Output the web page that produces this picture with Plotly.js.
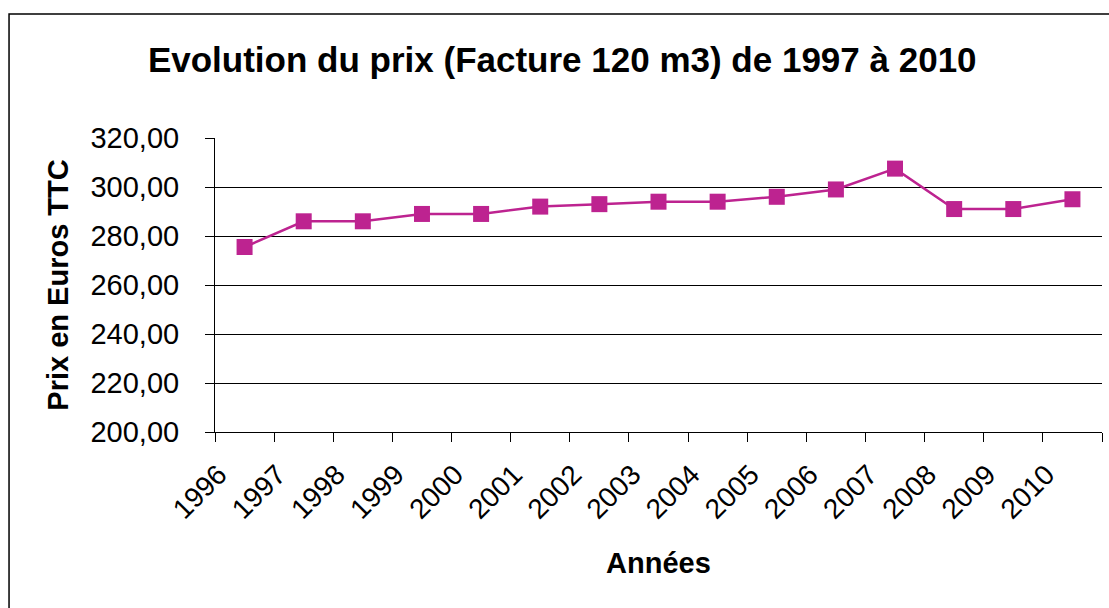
<!DOCTYPE html>
<html>
<head>
<meta charset="utf-8">
<script src="https://cdn.plot.ly/plotly-3.0.1.min.js"></script>
<style>
  html, body { margin: 0; padding: 0; background: #ffffff; }
  #chart { width: 1109px; height: 608px; }
</style>
</head>
<body>
<div id="chart"></div>
<script>
const years = ["1996", "1997", "1998", "1999", "2000", "2001", "2002", "2003", "2004", "2005", "2006", "2007", "2008", "2009", "2010"];
const prices = [275.5, 286, 286, 289, 289, 292, 293, 294, 294, 296, 299, 307.5, 291, 291, 295];
const yTicks = [200, 220, 240, 260, 280, 300, 320];

const chartTitle = "Evolution du prix (Facture 120 m3) de 1997 à 2010";
const xTitle = "Années";
const yTitle = "Prix en Euros TTC";

const lineColor = "#BD2390";
const fontFam = "'Liberation Sans', Arial, sans-serif";

const trace = {
  type: "scatter",
  mode: "lines+markers",
  x: years,
  y: prices,
  line: { color: lineColor, width: 2.5 },
  marker: { symbol: "square", size: 16, color: lineColor },
  hoverinfo: "x+y"
};

const layout = {
  width: 1109,
  height: 608,
  margin: { l: 215, r: 7, t: 138, b: 176 },
  paper_bgcolor: "#ffffff",
  plot_bgcolor: "#ffffff",
  separators: ", ",
  showlegend: false,
  font: { family: fontFam, color: "#000000" },
  title: {
    text: "<b>" + chartTitle + "</b>",
    font: { family: fontFam, size: 35, color: "#000000" },
    x: 0.507, xref: "container", xanchor: "center",
    y: 0.902, yanchor: "middle"
  },
  xaxis: {
    type: "category",
    range: [-0.5, years.length - 0.5],
    tickson: "boundaries",
    ticks: "outside",
    ticklen: 9,
    tickcolor: "#000000",
    tickwidth: 1,
    tickangle: -45,
    ticklabelshift: -26,
    ticklabelstandoff: 14,
    tickfont: { family: fontFam, size: 28, color: "#000000" },
    showline: true,
    linecolor: "#000000",
    linewidth: 1,
    showgrid: false,
    zeroline: false,
    mirror: false,
    title: {
      text: "<b>" + xTitle + "</b>",
      font: { family: fontFam, size: 29, color: "#000000" },
      standoff: 28
    },
    automargin: false
  },
  yaxis: {
    range: [200, 320],
    tickvals: yTicks,
    tickformat: ".2f",
    ticks: "outside",
    ticklen: 9,
    tickcolor: "#000000",
    tickwidth: 1,
    ticklabelstandoff: 20,
    tickfont: { family: fontFam, size: 29, color: "#000000" },
    showline: true,
    linecolor: "#000000",
    linewidth: 1,
    showgrid: true,
    gridcolor: "#000000",
    gridwidth: 1,
    zeroline: false,
    title: {
      text: "<b>" + yTitle + "</b>",
      font: { family: fontFam, size: 29, color: "#000000" },
      standoff: 13
    },
    automargin: false
  },
  shapes: [
    {
      type: "rect", xref: "paper", yref: "paper",
      x0: -0.2322, x1: 1.02, y0: -0.66, y1: 1.4218,
      line: { color: "#000000", width: 1.5 },
      fillcolor: "rgba(0,0,0,0)"
    }
  ]
};

Plotly.newPlot("chart", [trace], layout, { displayModeBar: false, staticPlot: true });
</script>
</body>
</html>
